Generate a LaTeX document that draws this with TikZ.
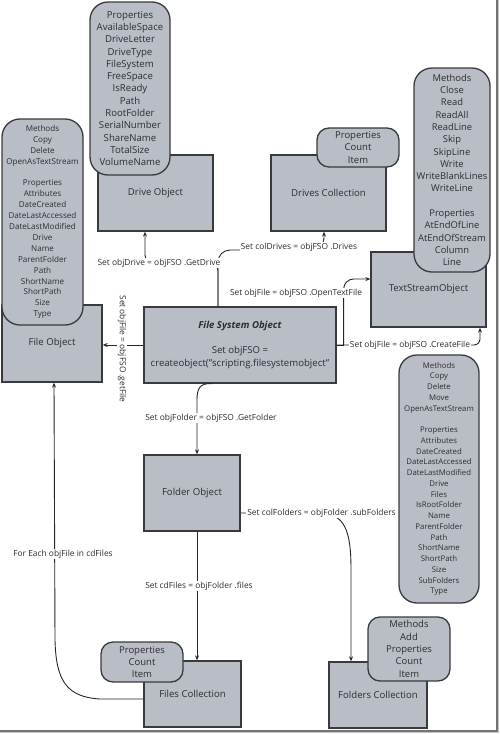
\documentclass[tikz,border=0pt]{standalone}
\usepackage{fontspec}
\setmainfont{Open Sans}
\usetikzlibrary{arrows.meta}
\definecolor{boxfill}{RGB}{185,189,198}
\definecolor{boxdraw}{RGB}{58,58,60}
\definecolor{txt}{RGB}{45,45,48}
\begin{document}
\begin{tikzpicture}[x=1pt,y=-1pt,
  box/.style={draw=boxdraw, line width=1.3pt, fill=boxfill, inner sep=0pt, text=txt, align=center, font=\fontsize{9.6}{13}\selectfont},
  bubble/.style={draw=boxdraw, line width=1.3pt, fill=boxfill, rounded corners=14pt, inner sep=0pt, align=center, text=txt},
  conn/.style={draw=black!85, line width=0.9pt, -{Stealth[length=5pt,width=4pt]}},
  plain/.style={draw=black!85, line width=0.9pt},
  lbl/.style={fill=white, inner sep=1pt, text=txt, font=\fontsize{8.4}{10}\selectfont}]
\useasboundingbox (0,0) rectangle (500,734);
% frame shadow
\draw[black!55, line width=1.4pt] (497,0) -- (497,731) -- (0,731);
\draw[black!22, line width=1.4pt] (498.6,0) -- (498.6,732.6) -- (0,732.6);
% boxes
\node[box, minimum width=115pt, minimum height=76pt] (drive) at (155.5,193) {Drive Object};
\node[box, minimum width=100pt, minimum height=77pt] (file) at (52,343.5) {File Object};
\node[box, minimum width=115pt, minimum height=76pt] (drives) at (328.5,193) {Drives Collection};
\node[box, minimum width=115pt, minimum height=75pt] (tso) at (428.5,289.5) {TextStreamObject};
\node[box, minimum width=192pt, minimum height=76pt] (fso) at (240,345) {\textbf{\textit{File System Object}}\\[12pt]Set objFSO =\\createobject("scripting.filesystemobject"};
\node[box, minimum width=96pt, minimum height=76pt] (folder) at (192,493) {Folder Object};
\node[box, minimum width=97pt, minimum height=66pt] (files) at (192.5,694) {Files Collection};
\node[box, minimum width=98pt, minimum height=66pt] (folders) at (378,695) {Folders Collection};
% bubbles
\node[bubble, font=\fontsize{9.6}{12.3}\selectfont, minimum width=80pt, minimum height=173pt, rounded corners=18pt] (drivep) at (130,88.5) {Properties\\AvailableSpace\\DriveLetter\\DriveType\\FileSystem\\FreeSpace\\IsReady\\Path\\RootFolder\\SerialNumber\\ShareName\\TotalSize\\VolumeName};
\node[bubble, font=\fontsize{8.1}{10.9}\selectfont, minimum width=81pt, minimum height=206pt, rounded corners=18pt] (filep) at (42.5,222) {Methods\\Copy\\Delete\\OpenAsTextStream\\[10.9pt]Properties\\Attributes\\DateCreated\\DateLastAccessed\\DateLastModified\\Drive\\Name\\ParentFolder\\Path\\ShortName\\ShortPath\\Size\\Type};
\node[bubble, font=\fontsize{9.5}{12.4}\selectfont, minimum width=82pt, minimum height=39pt, rounded corners=12pt] (drivesp) at (358,147.5) {Properties\\Count\\Item};
\node[bubble, font=\fontsize{9.4}{12.3}\selectfont, minimum width=76pt, minimum height=204pt, rounded corners=18pt] (tsop) at (452,170) {Methods\\Close\\Read\\ReadAll\\ReadLine\\Skip\\SkipLine\\Write\\WriteBlankLines\\WriteLine\\[12.3pt]Properties\\AtEndOfLine\\AtEndOfStream\\Column\\Line};
\node[bubble, font=\fontsize{7.8}{10.75}\selectfont, minimum width=80pt, minimum height=248pt, rounded corners=18pt] (folderp) at (439,479) {Methods\\Copy\\Delete\\Move\\OpenAsTextStream\\[10.75pt]Properties\\Attributes\\DateCreated\\DateLastAccessed\\DateLastModified\\Drive\\Files\\IsRootFolder\\Name\\ParentFolder\\Path\\ShortName\\ShortPath\\Size\\SubFolders\\Type};
\node[bubble, font=\fontsize{9.5}{12}\selectfont, minimum width=82pt, minimum height=40pt, rounded corners=12pt] (filesp) at (142,662) {Properties\\Count\\Item};
\node[bubble, font=\fontsize{9.5}{12.3}\selectfont, minimum width=82pt, minimum height=64pt, rounded corners=12pt] (foldersp) at (409,649) {Methods\\Add\\Properties\\Count\\Item};
% helper coordinates
\coordinate (y250) at (0,250);
\coordinate (y263) at (0,263);
\coordinate (c1a) at ([xshift=-22pt]fso.north);
\coordinate (c1b) at ([xshift=-10.5pt]drive.south);
\coordinate (c2b) at ([xshift=-4.5pt]drives.south);
\coordinate (c3m) at ([xshift=7pt]fso.east);
\coordinate (c3b) at ([yshift=10.5pt]tso.west);
\coordinate (c4b) at ([xshift=51.5pt]tso.south);
\coordinate (g0) at ([xshift=-28pt]fso.south);
\coordinate (g1) at (200,383);
\coordinate (g2) at (197,388);
\coordinate (g3) at (197,400);
\coordinate (c5b) at ([xshift=5pt]folder.north);
\coordinate (f0) at ([yshift=-20pt]folder.east);
\coordinate (f1) at (318,513);
\coordinate (fc1) at (345,513);
\coordinate (fc2) at (351,530);
\coordinate (f2) at (351,570);
\coordinate (f3) at ([xshift=-27pt]folders.north);
\coordinate (e0) at ([yshift=-5pt]files.west);
\coordinate (e1) at (100,699);
\coordinate (ec1) at (66,697);
\coordinate (ec2) at (56,680);
\coordinate (e2) at (55,640);
\coordinate (e3) at ([xshift=2pt]file.south);
% connectors
\draw[conn, rounded corners=8pt] (c1a) -- (c1a |- y263) -- (c1b |- y263) -- (c1b);
\draw[conn, rounded corners=12pt] (c1a) -- (c1a |- y250) -- (c2b |- y250) -- (c2b);
\draw[plain] (fso.east) -- (c3m);
\draw[conn, rounded corners=10pt] (c3m) |- (c3b);
\draw[conn, rounded corners=6pt] (fso.east) -| (c4b);
\draw[conn] (fso.west) -- (fso.west -| file.east);
\draw[conn] (g0) .. controls (g1) and (g2) .. (g3) -- (c5b);
\draw[conn] (f0) -- (f1) .. controls (fc1) and (fc2) .. (f2) -- (f3);
\draw[conn] ([xshift=5pt]folder.south) -- ([xshift=4.5pt]files.north);
\draw[conn] (e0) -- (e1) .. controls (ec1) and (ec2) .. (e2) -- (e3);
% labels
\node[lbl] (l1) at (159,263) {Set objDrive = objFSO .GetDrive};
\node[lbl] (l2) at (299,247) {Set colDrives = objFSO .Drives};
\node[lbl] (l3) at (296,293) {Set objFile = objFSO .OpenTextFile};
\node[lbl] (l4) at (410,345) {Set objFile = objFSO .CreateFile};
\node[lbl, rotate=-90] (l5) at (122,349) {Set objFile = objFSO .getFile};
\node[lbl] (l6) at (211,418) {Set objFolder = objFSO .GetFolder};
\node[lbl] (l7) at (321.5,513) {Set colFolders = objFolder .subFolders};
\node[lbl] (l8) at (199,586) {Set cdFiles = objFolder .files};
\node[lbl] (l9) at (63,554) {For Each objFile in cdFiles};
\end{tikzpicture}
\end{document}
